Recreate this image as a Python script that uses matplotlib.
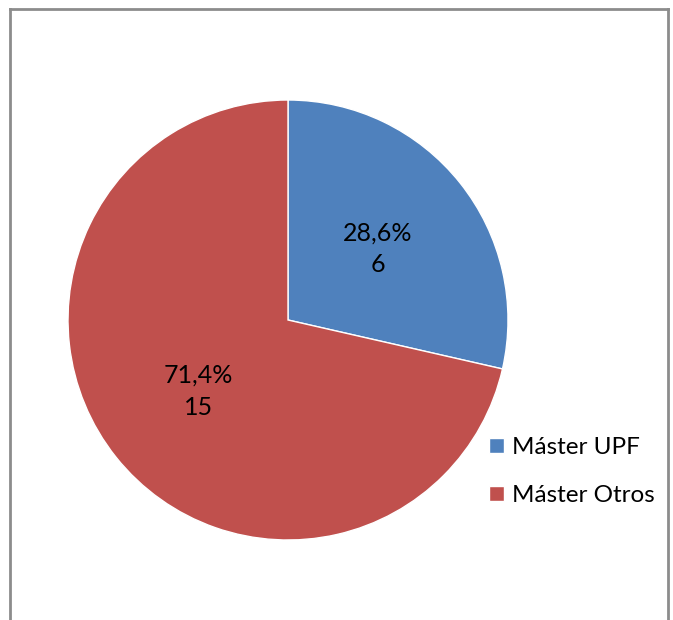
import matplotlib.pyplot as plt
from matplotlib.lines import Line2D

plt.rcParams['font.family'] = ['Lato', 'DejaVu Sans']

# datos
categorias = ["Máster UPF", "Máster Otros"]
valores = [6, 15]
colores = ["#4F81BD", "#C0504D"]

fig = plt.figure(figsize=(6.73, 6.2), dpi=100)
W, H = 673, 620

# marco del grafico (el borde inferior queda fuera de la imagen)
borde = dict(color="#8c8c8c", linewidth=2, transform=fig.transFigure)
fig.add_artist(Line2D([10 / W, 10 / W], [0, 1 - 9 / H], **borde))
fig.add_artist(Line2D([10 / W, 668 / W], [1 - 9 / H, 1 - 9 / H], **borde))
fig.add_artist(Line2D([668 / W, 668 / W], [0, 1 - 9 / H], **borde))

ax = fig.add_axes([68 / W, 80 / H, 440 / W, 440 / H])

total = sum(valores)


def etiqueta(pct):
    n = int(round(pct * total / 100))
    return f"{pct:.1f}%".replace(".", ",") + f"\n{n}"


wedges, textos, autotextos = ax.pie(
    valores, colors=colores, startangle=90, counterclock=False,
    autopct=etiqueta, pctdistance=0.52, radius=1,
    wedgeprops=dict(edgecolor="white", linewidth=1),
    textprops=dict(fontsize=18, color="black", linespacing=1.45))
ax.set_xlim(-1, 1)
ax.set_ylim(-1, 1)
ax.set_aspect("equal")

fig.legend(wedges, categorias, loc="upper left",
           bbox_to_anchor=(477 / W, 1 - 425 / H), frameon=False,
           fontsize=17.5, handlelength=0.6, handleheight=0.6,
           handletextpad=0.35, labelspacing=1.1, borderpad=0)

fig.savefig("out.png", dpi=100)
